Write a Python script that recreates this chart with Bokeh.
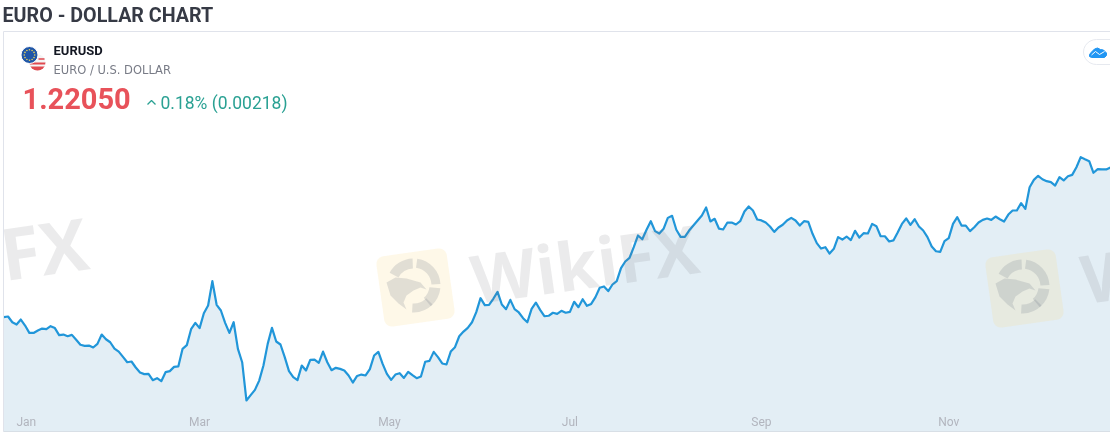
import numpy as np
from bokeh.plotting import figure
from bokeh.models import Range1d, LinearAxis, FixedTicker
from bokeh.core.properties import value
from bokeh.embed import file_html
from bokeh.resources import INLINE

TITLE = "EURO - DOLLAR CHART"
SYMBOL = "EURUSD"
DESCRIPTION = "EURO / U.S. DOLLAR"
LAST_PRICE = "1.22050"
CHANGE = "0.18% (0.00218)"
MONTHS = ["Jan", "Mar", "May", "Jul", "Sep", "Nov"]
MONTH_POS = [5.3, 46, 90.6, 133, 178, 222]

prices_q1 = [
    1.1210, 1.1214, 1.1176, 1.1161, 1.1194, 1.1154, 1.1105, 1.1105, 1.1121, 1.1134, 1.1130, 1.1150,
    1.1137, 1.1090, 1.1094, 1.1083, 1.1092, 1.1059, 1.1026, 1.1019, 1.1021, 1.1008, 1.1032, 1.1094,
    1.1063, 1.1043, 1.1001, 1.0981, 1.0946, 1.0910, 1.0915, 1.0875, 1.0842, 1.0831, 1.0833, 1.0791,
    1.0804, 1.0784, 1.0844, 1.0851, 1.0879, 1.0882, 1.0999, 1.1024, 1.1130, 1.1172, 1.1137, 1.1236,
    1.1287, 1.1449, 1.1292, 1.1254, 1.1172, 1.1105, 1.1176, 1.0999, 1.0910, 1.0656, 1.0691, 1.0726,
    1.0788, 1.0888, 1.1032, 1.1139, 1.1048, 1.1028, 1.0944, 1.0851, 1.0811, 1.0791, 1.0888, 1.0855,
    1.0926, 1.0928, 1.0906, 1.0981, 1.0910, 1.0857, 1.0873, 1.0866, 1.0855, 1.0822, 1.0775, 1.0819,
    1.0828, 1.0822, 1.0864,
]
prices_mid = [
    1.0955, 1.0979, 1.0899, 1.0833, 1.0793, 1.0828, 1.0837, 1.0806, 1.0846, 1.0824, 1.0804, 1.0815,
    1.0913, 1.0919, 1.0979, 1.0944, 1.0902, 1.0895, 1.0981, 1.1010, 1.1083, 1.1114, 1.1139, 1.1176,
    1.1243, 1.1336, 1.1290, 1.1292, 1.1332, 1.1378, 1.1294, 1.1263, 1.1325, 1.1263, 1.1241, 1.1203,
    1.1176, 1.1265, 1.1307, 1.1258, 1.1216, 1.1219, 1.1239, 1.1232, 1.1252, 1.1239, 1.1245, 1.1312,
    1.1276, 1.1329, 1.1285, 1.1298, 1.1343, 1.1405, 1.1414, 1.1383, 1.1427, 1.1449, 1.1536, 1.1580,
    1.1604, 1.1675, 1.1753, 1.1728, 1.1791, 1.1848, 1.1782, 1.1766, 1.1797, 1.1870, 1.1884, 1.1791,
    1.1744, 1.1744, 1.1786, 1.1819, 1.1853, 1.1886, 1.1939, 1.1846, 1.1864, 1.1799, 1.1793, 1.1839,
    1.1839, 1.1826,
]
prices_late = [
    1.1848, 1.1912, 1.1946, 1.1919, 1.1859, 1.1853, 1.1839, 1.1813, 1.1777, 1.1806, 1.1824, 1.1853,
    1.1870, 1.1853, 1.1819, 1.1848, 1.1844, 1.1764, 1.1702, 1.1666, 1.1675, 1.1633, 1.1664, 1.1742,
    1.1726, 1.1746, 1.1722, 1.1784, 1.1739, 1.1768, 1.1766, 1.1830, 1.1815, 1.1748, 1.1748, 1.1713,
    1.1720, 1.1773, 1.1830, 1.1866, 1.1824, 1.1861, 1.1813, 1.1786, 1.1742, 1.1680, 1.1648, 1.1644,
    1.1715, 1.1735, 1.1830, 1.1875, 1.1819, 1.1819, 1.1782, 1.1808, 1.1839, 1.1857, 1.1866, 1.1857,
    1.1879, 1.1861, 1.1846, 1.1892, 1.1919, 1.1919, 1.1968, 1.1930, 1.2074, 1.2123, 1.2150, 1.2127,
    1.2114, 1.2108, 1.2085, 1.2141, 1.2119, 1.2147, 1.2156, 1.2207, 1.2274, 1.2260, 1.2247, 1.2170,
    1.2194, 1.2192, 1.2192, 1.2205,
]
prices = prices_q1 + prices_mid + prices_late
days = list(range(len(prices)))

W, H = 1110, 433
N = len(prices)
LEFT = 3.3
step = (W - LEFT) / (N - 1)
x0, x1 = -LEFT / step, N - 1
y_top, y_bot = 1.33156, 1.33156 - 0.000665 * H
X = lambda px: x0 + np.asarray(px, dtype=float) / W * (x1 - x0)
Y = lambda py: y_top + np.asarray(py, dtype=float) / H * (y_bot - y_top)

p = figure(width=W, height=H, output_backend="svg", toolbar_location=None,
           x_range=Range1d(x0, x1), y_range=Range1d(y_bot, y_top),
           x_axis_location=None, y_axis_location=None,
           min_border=0, outline_line_color=None, background_fill_color="white",
           border_fill_color="white")
p.styles = {"position": "fixed", "left": "0px", "top": "0px"}
p.grid.visible = False

FONT = "Roboto"


def txt(px, py, s, size, color, style="normal", font=FONT, align="left", alpha=1.0, angle=0.0):
    p.text([float(X(px))], [float(Y(py))], text=[s], text_font=value(font),
           text_font_size=f"{size}px", text_color=color, text_font_style=style,
           text_align=align, text_baseline="middle", text_alpha=alpha, angle=angle)


# area and line
p.varea(days, prices, [float(Y(431))] * N, fill_color="#e3eef5")
p.line(days, prices, line_color="#2196d9", line_width=2.2, line_join="round")


def rounded(cx, cy, size, r, deg):
    pts = []
    h = size / 2 - r
    for (ax, ay), start in zip([(h, -h), (h, h), (-h, h), (-h, -h)], [-90, 0, 90, 180]):
        for t in np.radians(np.arange(start, start + 91, 15)):
            pts.append((ax + r * np.cos(t), ay + r * np.sin(t)))
    pts = np.array(pts)
    a = np.radians(-deg)
    c, s = np.cos(a), np.sin(a)
    return cx + pts[:, 0] * c - pts[:, 1] * s, cy + pts[:, 0] * s + pts[:, 1] * c


TILT = 8
MARK = "#707a85"
for cx, cy in [(413, 285), (1022, 286)]:
    sx, sy = rounded(cx + 2, cy + 2, 71, 8, TILT)
    p.patch(X(sx), Y(sy), fill_color="#f8dc8a", fill_alpha=0.2, line_color=None)
    for a0, a1, inner in [(92, 152, 17), (3, 82, 18), (-50, -6, 16), (-93, -45, 18)]:
        p.annular_wedge([float(X(cx))], [float(Y(cy))], inner_radius=inner, outer_radius=27,
                        inner_radius_units="screen", outer_radius_units="screen",
                        start_angle=np.radians(a0), end_angle=np.radians(a1),
                        fill_color=MARK, fill_alpha=0.2, line_color=None)
    ex = np.array([-27, -18, -7, 7, 13, 7, 0, -7, -10, -7, -15, -23])
    ey = np.array([-3, -8, -7, -3, 4, 2, 5, 10, 17, 24, 18, 10])
    p.patch(X(cx + ex), Y(cy + ey), fill_color=MARK, fill_alpha=0.2, line_color=None)

for px, py, s, size in [(0, 253, "FX", 72), (471, 278, "WikiFX", 67), (1081, 278, "W", 67)]:
    txt(px, py, s, size, "#707278", style="bold", font="Open Sans", alpha=0.14,
        angle=np.radians(TILT))

# card frame
p.line(X([3, 3]), Y([31, 431]), line_color="#e0e3eb", line_width=1)
p.line(X([3, 1110]), Y([31, 31]), line_color="#e0e3eb", line_width=1)
p.line(X([3, 1110]), Y([431, 431]), line_color="#d8dfe6", line_width=1)

# title & legend
txt(2, 15, TITLE, 19.7, "#363a45", style="bold")
txt(53, 50, SYMBOL, 13, "#131722", style="bold")
txt(53, 69, DESCRIPTION, 11.5, "#787b86", font="DejaVu Sans")
txt(22, 97.5, LAST_PRICE, 29, "#e8525a", style="bold")
txt(160, 102, CHANGE, 17.5, "#2aa193")
p.line(X([147, 151, 155]), Y([104, 100, 104]), line_color="#2aa193", line_width=1.3)

# flags
p.scatter([float(X(37))], [float(Y(62))], size=16, marker="circle", fill_color="#f4f4f4", line_color=None)
p.annular_wedge([float(X(37))], [float(Y(62))], inner_radius=0, outer_radius=8,
                inner_radius_units="screen", outer_radius_units="screen",
                start_angle=np.pi, end_angle=2 * np.pi, fill_color="#e0494f", line_color=None)
p.line(X([29.5, 44.5]), Y([65, 65]), line_color="#f6f6f6", line_width=1.8)
p.line(X([38, 44]), Y([58.5, 58.5]), line_color="#e0494f", line_width=1.3)
p.scatter([float(X(29))], [float(Y(54.5))], size=17, marker="circle", fill_color="#1f56a8",
          line_color="white", line_width=1)
t = np.radians(np.arange(0, 360, 30))
p.scatter(X(29 + 5.2 * np.cos(t)), Y(54.5 + 5.2 * np.sin(t)), size=1.6, marker="circle",
          fill_color="#e8d25a", line_color=None)

# chart-style button
arc = np.radians(np.arange(270, 89, -15))
bx = np.r_[1111, 1096 + 13 * np.cos(arc), 1111]
by = np.r_[64, 51.5 - 12.5 * np.sin(arc), 39]
p.patch(X(bx), Y(by), fill_color="white", line_color="#e6e9ef", line_width=1)
cloud_x = [1089, 1091, 1094, 1097, 1100, 1103, 1106, 1106, 1104, 1091, 1089]
cloud_y = [54, 51.5, 48.5, 47.5, 49, 49.5, 52.5, 55, 57, 57, 56]
p.patch(X(cloud_x), Y(cloud_y), fill_color="#2196f3", line_color="#2196f3", line_width=1, line_join="round")
p.line(X([1091, 1095, 1099, 1104]), Y([54.5, 51, 54, 51]), line_color="white", line_width=1)

# month axis, drawn inside the plot frame
ax = LinearAxis(ticker=FixedTicker(ticks=MONTH_POS),
                major_label_overrides={m: l for m, l in zip(MONTH_POS, MONTHS)})
ax.axis_line_color = None
ax.major_tick_line_color = None
ax.minor_tick_line_color = None
ax.major_tick_out = 0
ax.major_tick_in = 0
ax.minor_tick_out = 0
ax.minor_tick_in = 0
ax.major_label_standoff = -19
ax.major_label_text_font = FONT
ax.major_label_text_font_size = "12px"
ax.major_label_text_color = "#b2b5be"
p.add_layout(ax, "below")

open("out.html", "w").write(file_html(p, INLINE))
